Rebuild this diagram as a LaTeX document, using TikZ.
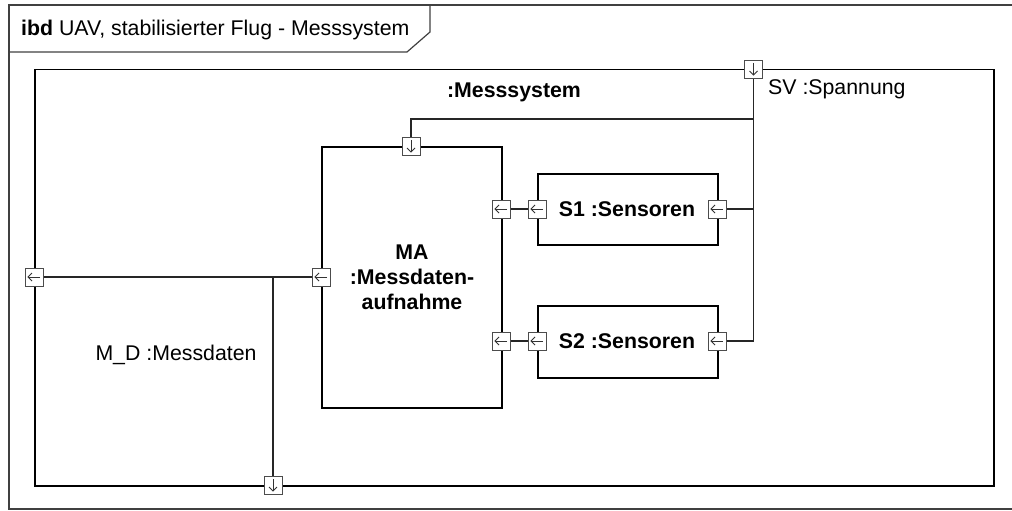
\documentclass[tikz,border=0pt]{standalone}
\usepackage{fontspec}
\setmainfont{Liberation Sans}
\usetikzlibrary{calc}
\begin{document}
\begin{tikzpicture}[x=1pt,y=-1pt,
  every node/.style={font=\fontsize{21.3}{25}\selectfont, inner sep=0pt},
  frameline/.style={draw=black!75, line width=1.2pt},
  sysbox/.style={draw=black, line width=1.5pt},
  partbox/.style={draw=black, line width=2pt},
  conn/.style={draw=black!85, line width=1.1pt},
  port/.style={draw=black!70, fill=white, line width=0.9pt, minimum size=18pt, inner sep=0pt},
  portL/.style={port, path picture={
     \draw[black!80, line width=0.8pt] ($(path picture bounding box.center)+(6,0)$) -- ($(path picture bounding box.center)+(-6,0)$);
     \draw[black!80, line width=0.8pt] ($(path picture bounding box.center)+(-2,-4)$) -- ($(path picture bounding box.center)+(-6,0)$) -- ($(path picture bounding box.center)+(-2,4)$);}},
  portD/.style={port, path picture={
     \draw[black!80, line width=0.8pt] ($(path picture bounding box.center)+(0,-6)$) -- ($(path picture bounding box.center)+(0,6)$);
     \draw[black!80, line width=0.8pt] ($(path picture bounding box.center)+(-4,2)$) -- ($(path picture bounding box.center)+(0,6)$) -- ($(path picture bounding box.center)+(4,2)$);}}
]
\useasboundingbox (0,0) rectangle (1012,511);
% outer frame
\draw[frameline] (1012,5) -- (9,5) -- (9,509) -- (1012,509);
\draw[frameline] (9,52) -- (407,52) -- (430,32) -- (430,5);
\node[anchor=west] (title) at (21,30) {\textbf{ibd} UAV, stabilisierter Flug - Messsystem};
% system block
\node[sysbox, minimum width=959pt, minimum height=416pt, anchor=north west] (sys) at (34,69) {};
\node[font=\fontsize{21.3}{25}\selectfont\bfseries] (syslabel) at (514,92) {:Messsystem};
% parts
\node[partbox, minimum width=180pt, minimum height=261pt, anchor=north west, align=center,
      font=\fontsize{21.3}{25}\selectfont\bfseries] (ma) at (321,146) {MA\\:Messdaten-\\aufnahme};
\node[sysbox, minimum width=180pt, minimum height=71pt, anchor=north west] (s1) at (537,173) {};
\node[font=\fontsize{21.3}{25}\selectfont\bfseries] (s1label) at (627,209) {S1 :Sensoren};
\node[sysbox, minimum width=180pt, minimum height=72pt, anchor=north west] (s2) at (537,305) {};
\node[font=\fontsize{21.3}{25}\selectfont\bfseries] (s2label) at (627,341) {S2 :Sensoren};
% labels
\node[anchor=west] (svlabel) at (768,89) {SV :Spannung};
\node (mdlabel) at (176,355) {M\_D :Messdaten};
% coordinates
\coordinate (jt) at (753.5,119);
\coordinate (j1) at (753.5,209);
\coordinate (j2) at (753.5,341);
\coordinate (jm) at (273,277);
% ports (placed, drawn later on top)
\path (753.5,69) node[portD] (sv) {};
\path (411,146) node[portD] (mat) {};
\path (501,209) node[portL] (mar1) {};
\path (501,341) node[portL] (mar2) {};
\path (321,277) node[portL] (mal) {};
\path (537,209) node[portL] (s1l) {};
\path (717,209) node[portL] (s1r) {};
\path (537,341) node[portL] (s2l) {};
\path (717,341) node[portL] (s2r) {};
\path (34,277) node[portL] (ml) {};
\path (273,485) node[portD] (mb) {};
% connectors
\draw[conn] (sv.south) -- (j2) -- (s2r.east);
\draw[conn] (s1r.east) -- (j1);
\draw[conn] (mat.north) |- (jt);
\draw[conn] (s1l.west) -- (mar1.east);
\draw[conn] (s2l.west) -- (mar2.east);
\draw[conn] (ml.east) -- (mal.west);
\draw[conn] (jm) -- (mb.north);
% redraw ports on top
\path (753.5,69) node[portD] {};
\path (411,146) node[portD] {};
\path (501,209) node[portL] {};
\path (501,341) node[portL] {};
\path (321,277) node[portL] {};
\path (537,209) node[portL] {};
\path (717,209) node[portL] {};
\path (537,341) node[portL] {};
\path (717,341) node[portL] {};
\path (34,277) node[portL] {};
\path (273,485) node[portD] {};
\end{tikzpicture}
\end{document}
